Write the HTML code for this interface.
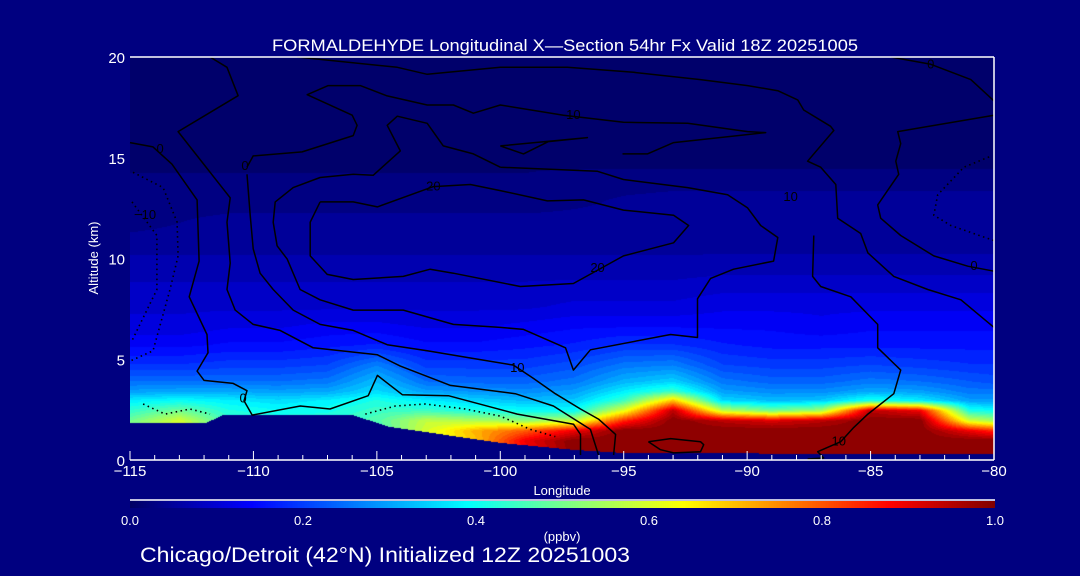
<!DOCTYPE html>
<html><head><meta charset="utf-8"><title>Formaldehyde cross-section</title>
<style>
html,body{margin:0;padding:0;background:#000080;width:1080px;height:576px;overflow:hidden;}
#wrap{position:relative;width:1080px;height:576px;}
canvas,svg{position:absolute;left:0;top:0;}
text{font-family:"Liberation Sans",sans-serif;fill:#fff;}
</style></head>
<body>
<div id="wrap">
<canvas id="field" width="864" height="403" style="left:130px;top:57px"></canvas>
<canvas id="cbar" width="865" height="7" style="left:130px;top:501px"></canvas>
<svg id="svg" width="1080" height="576"></svg>
</div>
<script>
// ---- data ----
const gridLon = [-115,-113,-111,-109,-107,-105,-103,-101,-99,-97,-95,-93,-91,-89,-87,-85,-83,-81,-80];
const gridAlt = [0,0.95,1.45,1.95,2.45,2.95,3.4,3.9,4.7,5.7,6.7,7.6,9.1,10.6,11.9,12.9,14.5,17,20];
const row0  = [.5,.62,.45,.45,.45,.45,.6,.7,.85,1,1,1,1,1,1,1,1,1,1];
const row1  = [.5,.62,.45,.45,.45,.45,.6,.7,.9,1,1,1,1,1,1,1,1,1,1];
const row2  = [.5,.62,.45,.45,.45,.45,.6,.72,.8,.9,1,1,1,1,1,1,1,.9,.85];
const row3  = [.5,.6,.45,.44,.44,.47,.58,.56,.53,.58,.85,1,.95,.92,.95,1,1,.6,.55];
const row4  = [.44,.5,.42,.4,.41,.45,.45,.42,.4,.4,.62,.95,.58,.5,.55,.95,.9,.42,.4];
const row5  = [.38,.4,.38,.36,.38,.42,.38,.35,.33,.34,.45,.7,.36,.33,.34,.42,.38,.3,.3];
const row6  = [.3,.31,.31,.3,.31,.36,.3,.29,.28,.3,.38,.45,.3,.28,.28,.31,.3,.26,.26];
const row7  = [.25,.25,.25,.25,.26,.33,.25,.24,.24,.26,.32,.35,.26,.24,.24,.26,.25,.23,.22];
const row8  = [.19,.19,.2,.2,.21,.27,.2,.2,.2,.22,.26,.27,.21,.2,.2,.21,.2,.19,.19];
const row9  = [.14,.14,.15,.15,.16,.17,.15,.15,.16,.17,.19,.19,.17,.16,.16,.16,.16,.16,.16];
const row10 = [.11,.11,.12,.12,.13,.13,.12,.12,.13,.14,.14,.14,.14,.14,.13,.14,.14,.14,.14];
const row11 = [.1,.1,.1,.1,.1,.1,.1,.1,.1,.11,.11,.11,.12,.12,.12,.12,.12,.12,.12];
const row12 = [.08,.08,.08,.08,.08,.08,.08,.08,.08,.08,.08,.08,.085,.085,.085,.085,.085,.085,.085];
const row13 = [.055,.055,.055,.055,.055,.055,.055,.055,.055,.055,.055,.055,.055,.055,.055,.055,.055,.055,.055];
const row14 = [.03,.04,.05,.05,.05,.05,.05,.05,.05,.05,.05,.05,.05,.05,.05,.05,.05,.05,.05];
const row15 = [.025,.025,.025,.025,.025,.025,.025,.025,.025,.035,.045,.05,.05,.05,.05,.05,.05,.05,.05];
const row16 = [.02,.02,.02,.02,.02,.02,.02,.02,.02,.02,.02,.02,.02,.02,.02,.02,.02,.02,.02];
const row17 = [.02,.02,.02,.02,.02,.02,.02,.02,.02,.02,.02,.02,.02,.02,.02,.02,.02,.02,.02];
const row18 = [.02,.02,.02,.02,.02,.02,.02,.02,.02,.02,.02,.02,.02,.02,.02,.02,.02,.02,.02];
const field = [row0,row1,row2,row3,row4,row5,row6,row7,row8,row9,row10,row11,row12,row13,row14,row15,row16,row17,row18];

const terrLon = [-115,-111.9,-111.2,-106,-105.4,-104.5,-100,-97,-95,-85,-80];
const terrAlt = [1.85,1.85,2.24,2.24,2.0,1.65,0.85,0.5,0.35,0.3,0.3];

const xTickVals = [-115,-110,-105,-100,-95,-90,-85,-80];
const xTickLabels = ["\u2212115","\u2212110","\u2212105","\u2212100","\u221295","\u221290","\u221285","\u221280"];
const yTickVals = [0,5,10,15,20];
const yTickLabels = ["0","5","10","15","20"];
const cbTickVals = [0,0.2,0.4,0.6,0.8,1.0];
const cbTickLabels = ["0.0","0.2","0.4","0.6","0.8","1.0"];

// contour lines (wind speed)
const c1Lon=[-115,-114.07,-113.3,-112.28,-112.2,-112.6,-111.88,-111.84,-112.28,-112,-110.82,-110.26,-110.38,-110.05,-108.1,-106.9,-105.35,-104.98,-103.97,-102.1,-99.31,-97.03,-96.75,-96.75];
const c1Alt=[15.75,15.54,14.68,12.91,9.87,8.1,6.23,5.32,4.41,3.95,3.8,3.44,2.94,2.23,2.68,2.53,3.19,4.2,3.24,3.19,2.28,1.77,1.27,0.25];
const c2Lon=[-111.76,-111.07,-110.62,-113.05,-110.94,-111.07,-110.94,-111.07,-110.74,-110.01,-108.92,-107.58,-104.98,-104.05,-102.02,-99.39,-97.85,-96.35,-96.02];
const c2Alt=[20,19.49,18.08,16.3,13.01,11.8,9.77,8.46,7.44,6.73,6.43,5.57,5.22,4.66,3.7,3.29,2.68,1.52,0.25];
const c3Lon=[-110.26,-110.01,-108.03,-105.96,-105.8,-106.0,-107.82,-106.97,-105.67,-104.58,-102.96,-101.9,-101.09,-100,-97.44,-95.01,-92.41,-89.98,-89.25,-92.98,-94.04,-95.05];
const c3Alt=[14.53,15.09,15.29,16.10,16.61,17.11,18.13,18.58,18.58,18.07,17.62,17.62,17.21,17.62,17.11,16.76,16.71,16.30,16.25,15.75,15.19,15.19];
const c4Lon=[-110.26,-110.13,-110.01,-109.73,-109.2,-108.39,-107.3,-105.96,-104.58,-102.96,-101.21,-99.47,-98.66,-97.77,-96.75,-96.02,-95.33,-95.41];
const c4Alt=[14.18,12.15,10.48,9.27,8.46,7.44,6.73,6.43,5.72,5.42,5.06,4.71,4.05,3.29,2.53,2.03,1.27,0.25];
const c5Lon=[-100,-101.09,-102.31,-102.96,-104.17,-104.58,-104.05,-105.15,-105.96,-107.3,-108.39,-109.12,-109.2,-109.04,-108.63,-108.11,-107.3,-105.96,-103.93,-101.9,-100,-99.06,-97.36,-97.04,-96.35,-93.1,-92.01,-92.01,-91.48,-90.55,-88.93,-88.76,-89.45,-89.98,-90.79,-92.41,-95.01,-96.06,-100];
const c5Alt=[14.53,15.19,15.59,16.71,17.06,16.61,15.34,14.13,14.18,14.02,13.52,12.81,11.80,10.63,9.97,8.46,7.95,7.44,7.44,6.73,6.58,6.48,5.57,4.46,5.47,6.23,6.08,8.0,9.01,9.47,9.87,11.04,11.64,12.51,13.16,13.52,13.92,14.33,14.53];
const c6Lon=[-107.3,-107.7,-107.7,-107.01,-105.96,-103.93,-102.84,-101.9,-99.19,-97.04,-95.01,-92.98,-92.37,-92.98,-95.01,-96.63,-98.09,-100,-101.21,-102.71,-104.98,-105.96,-107.3];
const c6Alt=[12.81,11.80,10.13,9.21,8.96,9.11,9.47,9.27,8.61,8.76,10.13,10.78,11.64,12.15,12.40,12.91,12.86,13.37,13.67,13.57,12.56,12.81,12.81];
const c7Lon=[-108.23,-104.17,-102.96,-100,-97.28,-94.6,-91.89,-89.98,-88.76,-87.95,-87.71,-86.62,-86.49,-87.55,-87.02,-86.41,-86.33,-85.4,-85.11,-84.06,-82.68,-81.34,-80];
const c7Alt=[20,19.49,19.14,19.49,19.49,19.24,18.88,18.58,18.33,17.87,17.37,16.56,16.35,14.83,14.53,13.67,12.0,11.24,10.28,9.11,8.46,7.95,6.58];
const c8Lon=[-80,-83.9,-83.78,-83.98,-83.86,-84.71,-84.59,-83.78,-82.44,-81.06,-80];
const c8Alt=[17.11,16.30,15.70,14.83,14.18,12.66,12.0,11.14,10.13,9.62,9.37];
const c9Lon=[-84.18,-82.56,-80.94,-80];
const c9Alt=[20,19.64,18.88,17.82];
const c10Lon=[-87.30,-87.35,-87.02,-85.80,-84.71,-84.71,-83.78,-84.06,-85.11,-85.68,-86.21,-87.14,-86.9,-87.55];
const c10Alt=[11.14,9.11,8.61,8.10,6.73,5.57,4.46,3.29,2.28,1.62,0.91,0.41,0.10,0.05];
const c11Lon=[-94.0,-93.1,-91.89,-91.76,-91.89,-92.98,-93.51,-94.0];
const c11Alt=[0.91,1.06,0.91,0.76,0.41,0.35,0.51,0.91];
const c12Lon=[-100,-99.06,-98.05,-96.47,-100];
const c12Alt=[15.59,15.19,15.80,16.0,15.59];
// dotted (negative) contours
const d1Lon=[-114.88,-113.66,-113.09,-113.05,-113.38,-114.07,-115];
const d1Alt=[14.28,13.52,11.80,10.13,8.46,5.42,4.91];
const d2Lon=[-114.92,-113.91,-113.91,-114.92];
const d2Alt=[12.81,11.14,8.46,5.92];
const d3Lon=[-80.2,-81.22,-82.28,-82.44,-81.75,-80];
const d3Alt=[15.04,14.53,13.16,12.15,11.64,10.89];
const d4Lon=[-114.47,-113.58,-112.57,-111.76];
const d4Alt=[2.78,2.28,2.53,2.28];
const d5Lon=[-105.47,-104.25,-103.04,-101.42,-100,-98.78,-97.77];
const d5Alt=[2.28,2.68,2.78,2.53,2.18,1.52,1.16];

const labText=["0","0","0","\u221210","10","20","20","10","10","0","0","10"];
const labLon=[-113.78,-110.42,-110.34,-114.39,-97.04,-102.71,-96.06,-88.24,-99.31,-82.56,-80.81,-86.29];
const labAlt=[15.44,3.04,14.58,12.15,17.11,13.57,9.52,13.06,4.56,19.64,9.62,0.91];

// ---- scales ----
const X0=130, X1=994, YB=460, YT=57;
function X(lon){return X0+(lon+115)/35*(X1-X0);}
function Y(alt){return YB-alt/20*(YB-YT);}

const cmStops=[[0,0,0,100],[0.14,0,0,255],[0.39,0,255,255],[0.52,140,255,120],[0.64,255,255,0],[0.88,255,0,0],[1,128,0,0]];
function cmap(v){
  v=Math.max(0,Math.min(1,v));
  for(let k=0;k<cmStops.length-1;k++){
    const a=cmStops[k],b=cmStops[k+1];
    if(v<=b[0]){const t=(v-a[0])/(b[0]-a[0]);return [a[1]+(b[1]-a[1])*t,a[2]+(b[2]-a[2])*t,a[3]+(b[3]-a[3])*t];}
  }
  return [128,0,0];
}
function seg(arr,v){let i=0;while(i<arr.length-2&&v>arr[i+1])i++;return i;}
function interp1(xs,ys,v){const i=seg(xs,v);const t=Math.max(0,Math.min(1,(v-xs[i])/(xs[i+1]-xs[i])));return ys[i]+(ys[i+1]-ys[i])*t;}
function sample(lon,alt){
  const i=seg(gridLon,lon), j=seg(gridAlt,alt);
  const tx=Math.max(0,Math.min(1,(lon-gridLon[i])/(gridLon[i+1]-gridLon[i])));
  const ty=Math.max(0,Math.min(1,(alt-gridAlt[j])/(gridAlt[j+1]-gridAlt[j])));
  const a=field[j][i]*(1-tx)+field[j][i+1]*tx;
  const b=field[j+1][i]*(1-tx)+field[j+1][i+1]*tx;
  return a*(1-ty)+b*ty;
}
// ---- draw field ----
(function(){
  const cv=document.getElementById('field'),ctx=cv.getContext('2d');
  const W=cv.width,H=cv.height,img=ctx.createImageData(W,H);
  const NL=48;
  for(let py=0;py<H;py++){
    const alt=(YB-(YT+py+0.5))/(YB-YT)*20;
    for(let px=0;px<W;px++){
      const lon=-115+(px+0.5)/W*35;
      let c;
      if(alt<interp1(terrLon,terrAlt,lon)){c=[0,0,128];}
      else{let v=sample(lon,alt);v=Math.floor(Math.min(v,0.999)*NL)/NL+0.3/NL;c=cmap(v);}
      const o=(py*W+px)*4;img.data[o]=c[0];img.data[o+1]=c[1];img.data[o+2]=c[2];img.data[o+3]=255;
    }
  }
  ctx.putImageData(img,0,0);
  const cb=document.getElementById('cbar'),cc=cb.getContext('2d');
  for(let px=0;px<cb.width;px++){const c=cmap(px/(cb.width-1));cc.fillStyle='rgb('+c.map(Math.round).join(',')+')';cc.fillRect(px,0,1,cb.height);}
})();
// ---- svg overlay ----
const NS='http://www.w3.org/2000/svg', svg=document.getElementById('svg');
function mk(tag,attrs,parent){const e=document.createElementNS(NS,tag);for(const k in attrs)e.setAttribute(k,attrs[k]);(parent||svg).appendChild(e);return e;}
function line(lons,alts,name,dotted){
  const pts=lons.map((l,k)=>X(l).toFixed(1)+','+Y(alts[k]).toFixed(1)).join(' ');
  const e=mk('polyline',{points:pts,fill:'none',stroke:'#000','stroke-width':dotted?1.6:1.5,'stroke-dasharray':dotted?'1.5,3.5':'none','stroke-linejoin':'round'});
  
  
}
line(c1Lon,c1Alt,'wind-contour-0-west');
line(c2Lon,c2Alt,'wind-contour-a');
line(c3Lon,c3Alt,'wind-contour-10-upper');
line(c4Lon,c4Alt,'wind-contour-10-lower');
line(c5Lon,c5Alt,'wind-contour-20');
line(c6Lon,c6Alt,'wind-contour-jet-core');
line(c7Lon,c7Alt,'wind-contour-b');
line(c8Lon,c8Alt,'wind-contour-0-east');
line(c9Lon,c9Alt,'wind-contour-0-top-east');
line(c10Lon,c10Alt,'wind-contour-10-east');
line(c11Lon,c11Alt,'wind-contour-loop-surface');
line(c12Lon,c12Alt,'wind-contour-loop-upper');
line(d1Lon,d1Alt,'negative-contour-1',true);
line(d2Lon,d2Alt,'negative-contour-2',true);
line(d3Lon,d3Alt,'negative-contour-east',true);
line(d4Lon,d4Alt,'negative-contour-surface-west',true);
line(d5Lon,d5Alt,'negative-contour-surface-mid',true);
labText.forEach((t,k)=>{
  const x=X(labLon[k]),y=Y(labAlt[k]);
  const bg=mk('text',{x:x,y:y+4,'font-size':13,'text-anchor':'middle',style:'fill:#000'});
  bg.textContent=t;
  
  
});
// axes box
let e;
e=mk('line',{x1:X0,y1:YB,x2:X1,y2:YB,stroke:'#fff','stroke-width':1.5});


e=mk('line',{x1:X0,y1:YT,x2:X1,y2:YT,stroke:'#fff','stroke-width':1.5});


e=mk('line',{x1:X1,y1:YT,x2:X1,y2:YB,stroke:'#fff','stroke-width':1.5});


for(let lon=-115;lon<=-80;lon++){
  const major=(lon%5===0);
  e=mk('line',{x1:X(lon),y1:YB,x2:X(lon),y2:YB-(major?9:5),stroke:'#fff','stroke-width':1});
  
  
}
xTickVals.forEach((v,k)=>{
  const t=mk('text',{x:X(v),y:476,'font-size':15,'text-anchor':'middle'});
  t.textContent=xTickLabels[k];
  
  
});
yTickVals.forEach((v,k)=>{
  const t=mk('text',{x:125,y:Y(v)+6,'font-size':15,'text-anchor':'end'});
  t.textContent=yTickLabels[k];
  
  
});
// colorbar
e=mk('line',{x1:130,y1:500,x2:995,y2:500,stroke:'#fff','stroke-width':1.5});


cbTickVals.forEach((v,k)=>{
  const t=mk('text',{x:130+v*865,y:525,'font-size':13,'text-anchor':'middle'});
  t.textContent=cbTickLabels[k];
  
  
});
</script>
<svg width="1080" height="576" style="position:absolute;left:0;top:0">
<text x="565" y="51" font-size="17" text-anchor="middle" textLength="586" lengthAdjust="spacingAndGlyphs">FORMALDEHYDE Longitudinal X—Section 54hr  Fx Valid 18Z 20251005</text>
<text x="562" y="495" font-size="13" text-anchor="middle">Longitude</text>
<text x="0" y="0" font-size="13" text-anchor="middle" transform="translate(98,258) rotate(-90)">Altitude (km)</text>
<text x="562" y="541" font-size="13" text-anchor="middle">(ppbv)</text>
<text x="140" y="562" font-size="21" textLength="490" lengthAdjust="spacingAndGlyphs">Chicago/Detroit (42°N) Initialized 12Z 20251003</text>
</svg>
</body></html>
